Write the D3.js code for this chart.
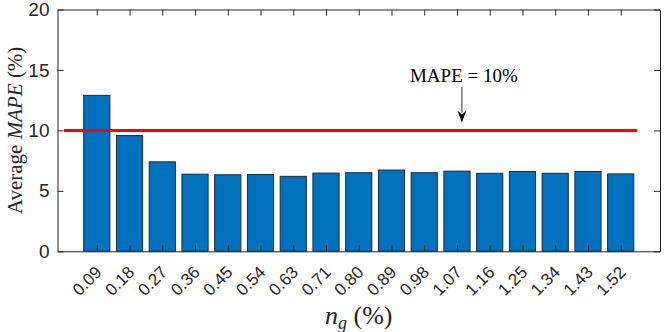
<!DOCTYPE html>
<html>
<head>
<meta charset="utf-8">
<script src="https://cdn.jsdelivr.net/npm/d3@7"></script>
<style>
  body { margin: 0; background: #fff; }
  svg { display: block; }
</style>
</head>
<body>
<svg id="chart" width="665" height="332"></svg>
<script>
// data
const categories = ["0.09", "0.18", "0.27", "0.36", "0.45", "0.54", "0.63", "0.71", "0.80",
                    "0.89", "0.98", "1.07", "1.16", "1.25", "1.34", "1.43", "1.52"];
const mapeValues = [12.9, 9.57, 7.4, 6.38, 6.33, 6.35, 6.2, 6.47, 6.5,
                    6.72, 6.5, 6.63, 6.45, 6.6, 6.45, 6.6, 6.4];
const yTicks = [0, 5, 10, 15, 20];
const threshold = 10;
const thresholdSpan = [0, 17.5];          // in bar index units
const noteText = "MAPE = 10%";
const notePoint = [12.15, 14.0];          // text anchor (index, value)
const arrowFrom = 13.6, arrowTo = 10.65;  // arrow y in value units

const sansFont = "'Liberation Sans', Arial, Helvetica, sans-serif";
const serifFont = "'Liberation Serif', 'Times New Roman', serif";

const svg = d3.select("#chart");
const margin = { top: 9.5, right: 5, bottom: 80.7, left: 57.5 };
const width = +svg.attr("width");
const height = +svg.attr("height");

const x = d3.scaleLinear()
  .domain([-0.2, categories.length + 1.2])
  .range([margin.left, width - margin.right]);
const y = d3.scaleLinear()
  .domain([0, 20])
  .range([height - margin.bottom, margin.top]);

const axisColor = "#262626";
const tickLen = 6;
const barW = x(0.8) - x(0);

// bars
svg.append("g")
  .selectAll("rect")
  .data(mapeValues)
  .enter()
  .append("rect")
  .attr("x", (d, i) => x(i + 1) - barW / 2)
  .attr("y", d => y(d))
  .attr("width", barW)
  .attr("height", d => y(0) - y(d))
  .attr("fill", "#0072BD")
  .attr("stroke", "#1c2b38")
  .attr("stroke-width", 1);

// threshold line
svg.append("line")
  .attr("x1", x(thresholdSpan[0]))
  .attr("x2", x(thresholdSpan[1]))
  .attr("y1", y(threshold))
  .attr("y2", y(threshold))
  .attr("stroke", "#ff0000")
  .attr("stroke-width", 3);

// axes (box with inward ticks)
const idx = categories.map((c, i) => i + 1);
const axLeft = d3.axisLeft(y).tickValues(yTicks).tickSizeInner(-tickLen).tickSizeOuter(0).tickPadding(8);
const axRight = d3.axisRight(y).tickValues(yTicks).tickSizeInner(-tickLen).tickSizeOuter(0).tickFormat("");
const axBottom = d3.axisBottom(x).tickValues(idx).tickSizeInner(-tickLen).tickSizeOuter(0).tickFormat("");
const axTop = d3.axisTop(x).tickValues(idx).tickSizeInner(-tickLen).tickSizeOuter(0).tickFormat("");

const gl = svg.append("g").attr("transform", `translate(${margin.left},0)`).call(axLeft);
svg.append("g").attr("transform", `translate(${width - margin.right},0)`).call(axRight);
svg.append("g").attr("transform", `translate(0,${height - margin.bottom})`).call(axBottom);
svg.append("g").attr("transform", `translate(0,${margin.top})`).call(axTop);

svg.selectAll(".domain").attr("stroke", axisColor);
svg.selectAll(".tick line").attr("stroke", axisColor);
gl.selectAll("text")
  .style("font-family", sansFont)
  .style("font-size", "19px")
  .attr("fill", axisColor);

// rotated category labels
svg.append("g")
  .selectAll("text")
  .data(categories)
  .enter()
  .append("text")
  .attr("transform", (d, i) => `translate(${x(i + 1) + 6},${height - margin.bottom + 22}) rotate(-45)`)
  .attr("text-anchor", "end")
  .style("font-family", sansFont)
  .style("font-size", "17px")
  .attr("fill", axisColor)
  .text(d => d);

// axis titles
const yl = svg.append("text")
  .attr("transform", `translate(22,${(margin.top + height - margin.bottom) / 2}) rotate(-90)`)
  .attr("text-anchor", "middle")
  .style("font-family", serifFont)
  .style("font-size", "21px")
  .attr("fill", axisColor);
yl.append("tspan").text("Average ");
yl.append("tspan").style("font-style", "italic").text("MAPE");
yl.append("tspan").text(" (%)");

const xl = svg.append("text")
  .attr("x", (margin.left + width - margin.right) / 2)
  .attr("y", 324)
  .attr("text-anchor", "middle")
  .style("font-family", serifFont)
  .style("font-size", "26px")
  .attr("fill", axisColor);
xl.append("tspan").style("font-style", "italic").text("n");
xl.append("tspan").style("font-style", "italic").style("font-size", "18px").attr("dy", 5).text("g");
xl.append("tspan").attr("dy", -5).text(" (%)");

// annotation
svg.append("text")
  .attr("x", x(notePoint[0]) + 2)
  .attr("y", y(notePoint[1]))
  .attr("text-anchor", "middle")
  .style("font-family", serifFont)
  .style("font-size", "19px")
  .attr("fill", "#000")
  .text(noteText);

const ax = x(notePoint[0]);
const tipY = y(arrowTo);
svg.append("line")
  .attr("x1", ax).attr("x2", ax)
  .attr("y1", y(arrowFrom)).attr("y2", tipY - 10)
  .attr("stroke", "#333")
  .attr("stroke-width", 1);
svg.append("path")
  .attr("d", `M${ax - 4.5},${tipY - 12} L${ax},${tipY - 8} L${ax + 4.5},${tipY - 12} L${ax},${tipY} Z`)
  .attr("fill", "#000");
</script>
</body>
</html>
